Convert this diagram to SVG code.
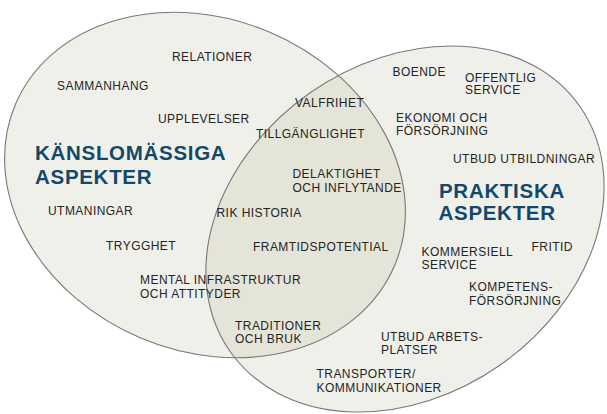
<svg xmlns="http://www.w3.org/2000/svg" width="607" height="414" viewBox="0 0 607 414">
<defs>
<style>
.fill{fill:#f0f0ea;}
.ov{fill:#e4e5d8;}
.edge{fill:none;stroke:#7d7676;stroke-width:1.1;}
.t{font-family:"Liberation Sans",Arial,sans-serif;font-size:12px;letter-spacing:0.45px;fill:#242424;}
.h{font-family:"Liberation Sans",Arial,sans-serif;font-size:20.5px;font-weight:bold;letter-spacing:0.7px;fill:#12486b;}
</style>
<ellipse id="eL" cx="0" cy="0" rx="206" ry="166" transform="translate(205,185) rotate(23)"/>
<ellipse id="eR" cx="0" cy="0" rx="213.5" ry="166" transform="translate(405,229) rotate(-35)"/>
<clipPath id="clipL"><use href="#eL"/></clipPath>
</defs>
<rect width="607" height="414" fill="#ffffff"/>
<g id="sets">
<use href="#eL" class="fill"/>
<use href="#eR" class="fill"/>
<g clip-path="url(#clipL)"><use href="#eR" class="ov"/></g>
<use href="#eL" class="edge"/>
<use href="#eR" class="edge"/>
</g>
<g id="left-set">
<text class="h" x="35" y="160">KÄNSLOMÄSSIGA</text>
<text class="h" x="35" y="184">ASPEKTER</text>
<text class="t" x="172" y="61">RELATIONER</text>
<text class="t" x="57" y="90">SAMMANHANG</text>
<text class="t" x="158" y="122.5">UPPLEVELSER</text>
<text class="t" x="48" y="215">UTMANINGAR</text>
<text class="t" x="106" y="250">TRYGGHET</text>
<text class="t" x="140" y="284"><tspan x="140">MENTAL INFRASTRUKTUR</tspan><tspan x="140" y="297.5">OCH ATTITYDER</tspan></text>
</g>
<g id="overlap">
<text class="t" x="295" y="106.5">VALFRIHET</text>
<text class="t" x="256" y="138">TILLGÄNGLIGHET</text>
<text class="t" x="292.5" y="178"><tspan x="292.5">DELAKTIGHET</tspan><tspan x="292.5" y="192">OCH INFLYTANDE</tspan></text>
<text class="t" x="216.5" y="216.5">RIK HISTORIA</text>
<text class="t" x="253" y="251">FRAMTIDSPOTENTIAL</text>
<text class="t" x="235" y="330"><tspan x="235">TRADITIONER</tspan><tspan x="235" y="343.3">OCH BRUK</tspan></text>
</g>
<g id="right-set">
<text class="h" x="439" y="198">PRAKTISKA</text>
<text class="h" x="438.5" y="220">ASPEKTER</text>
<text class="t" x="392.5" y="76">BOENDE</text>
<text class="t" x="465" y="81.5"><tspan x="465">OFFENTLIG</tspan><tspan x="465" y="94">SERVICE</tspan></text>
<text class="t" x="396" y="121.5"><tspan x="396">EKONOMI OCH</tspan><tspan x="396" y="135">FÖRSÖRJNING</tspan></text>
<text class="t" x="453" y="163">UTBUD UTBILDNINGAR</text>
<text class="t" x="421.5" y="256"><tspan x="421.5">KOMMERSIELL</tspan><tspan x="421.5" y="269.3">SERVICE</tspan></text>
<text class="t" x="531.5" y="250.5">FRITID</text>
<text class="t" x="469" y="291"><tspan x="469">KOMPETENS-</tspan><tspan x="469" y="304.8">FÖRSÖRJNING</tspan></text>
<text class="t" x="381" y="341"><tspan x="381">UTBUD ARBETS-</tspan><tspan x="381" y="354">PLATSER</tspan></text>
<text class="t" x="316.5" y="378"><tspan x="316.5">TRANSPORTER/</tspan><tspan x="316.5" y="391.5">KOMMUNIKATIONER</tspan></text>
</g>
</svg>
